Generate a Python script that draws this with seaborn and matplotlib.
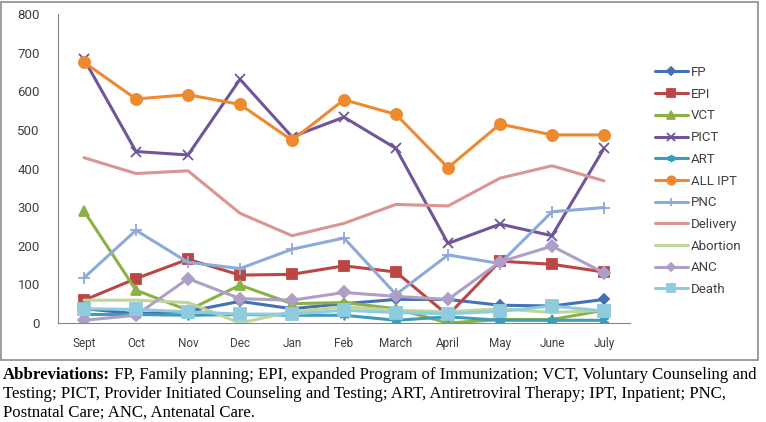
import matplotlib
matplotlib.use("Agg")
import matplotlib.pyplot as plt
import matplotlib.patches as mpatches
import seaborn as sns

# === Data
months = ["Sept", "Oct", "Nov", "Dec", "Jan", "Feb", "March", "April", "May", "June", "July"]

fp = [37, 24, 30, 56, 37, 50, 61, 61, 46, 44, 61]
epi = [59, 115, 165, 124, 126, 148, 132, 20, 160, 152, 132]
vct = [290, 85, 33, 98, 50, 53, 37, 0, 9, 9, 33]
pict = [683, 444, 435, 631, 482, 533, 452, 206, 256, 226, 452]
art = [22, 22, 20, 22, 20, 20, 7, 16, 7, 7, 7]
all_ipt = [675, 580, 591, 566, 473, 578, 540, 402, 515, 487, 487]
pnc = [117, 240, 157, 141, 191, 220, 74, 176, 154, 288, 299]
delivery = [428, 387, 394, 284, 226, 258, 307, 303, 375, 407, 368]
abortion = [59, 59, 53, 0, 29, 42, 33, 29, 37, 27, 33]
anc = [7, 20, 115, 63, 59, 79, 69, 61, 158, 199, 130]
death = [37, 35, 29, 23, 23, 33, 27, 24, 30, 44, 31]

series = [
    ("FP", fp, "#4471B4", "D", 5.5),
    ("EPI", epi, "#BB4644", "s", 7),
    ("VCT", vct, "#8AB046", "^", 7),
    ("PICT", pict, "#71559A", "x", 7),
    ("ART", art, "#3E9DB6", (6, 2, 0), 7),
    ("ALL IPT", all_ipt, "#EE8A2E", "o", 8),
    ("PNC", pnc, "#8EAADB", "+", 8),
    ("Delivery", delivery, "#DA9593", None, 0),
    ("Abortion", abortion, "#BFD69A", None, 0),
    ("ANC", anc, "#AE9FC8", "D", 6),
    ("Death", death, "#8ECBDE", "s", 8),
]

caption_bold = "Abbreviations:"
caption_lines = [
    " FP, Family planning; EPI, expanded Program of Immunization; VCT, Voluntary Counseling and",
    "Testing; PICT, Provider Initiated Counseling and Testing; ART, Antiretroviral Therapy; IPT, Inpatient; PNC,",
    "Postnatal Care; ANC, Antenatal Care.",
]

sns.set_theme(style="white")
plt.rcParams["font.family"] = ["Roboto", "DejaVu Sans"]

W, H = 766, 422
fig = plt.figure(figsize=(W / 100, H / 100), dpi=100)
ax = fig.add_axes([58 / W, 1 - 323 / H, (630 - 58) / W, (323 - 14) / H])

x = list(range(len(months)))
for name, vals, color, marker, ms in series:
    sns.lineplot(x=x, y=vals, ax=ax, color=color, linewidth=2.2,
                 marker=marker, markersize=ms, markeredgecolor=color,
                 markeredgewidth=1.3, label=name)

# === Axes styling (Excel look)
ax.set_xlim(-0.5, len(months) - 0.5)
ax.set_ylim(0, 800)
ax.set_yticks(range(0, 801, 100))
ax.set_xticks(x)
ax.set_xticklabels(months)
ax.set_xticks([i - 0.5 for i in range(len(months) + 1)], minor=True)
ax.tick_params(axis="x", which="major", length=0, pad=10, labelsize=8.5, colors="#404040")
ax.tick_params(axis="x", which="minor", length=4, width=0.8, color="#868686", direction="out")
ax.tick_params(axis="y", length=5, width=0.8, color="#868686", direction="out", pad=8,
               labelsize=9.5, labelcolor="#404040")
ax.spines["top"].set_visible(False)
ax.spines["right"].set_visible(False)
for s in ("left", "bottom"):
    ax.spines[s].set_color("#868686")
    ax.spines[s].set_linewidth(0.8)
ax.set_xlabel("")
ax.set_ylabel("")

leg = ax.legend(loc="upper left", bbox_to_anchor=(655 / W, 1 - 66 / H),
                bbox_transform=fig.transFigure, frameon=False, fontsize=9.5,
                handlelength=2.5, handletextpad=0.2, labelspacing=0.66,
                borderpad=0, borderaxespad=0, markerscale=0.75)
for t in leg.get_texts():
    t.set_color("#404040")

# === Outer frame of the chart
fig.patches.append(mpatches.Rectangle((1 / W, 1 - 360 / H), 757 / W, 358 / H,
                                      transform=fig.transFigure, fill=False,
                                      edgecolor="#8c8c8c", linewidth=1.2))

# === Caption with bold prefix
cap_font = ["Liberation Serif", "DejaVu Serif"]
cap_size = 12.1
fig.canvas.draw()
renderer = fig.canvas.get_renderer()
y0 = 1 - 375 / H
b = fig.text(3 / W, y0, caption_bold, family=cap_font, fontsize=cap_size, weight="bold",
             va="center", ha="left", color="black")
bb = b.get_window_extent(renderer)
fig.text(bb.x1 / W, y0, caption_lines[0], family=cap_font, fontsize=cap_size,
         va="center", ha="left", color="black")
fig.text(3 / W, 1 - 394.5 / H, caption_lines[1], family=cap_font, fontsize=cap_size,
         va="center", ha="left", color="black")
fig.text(3 / W, 1 - 413 / H, caption_lines[2], family=cap_font, fontsize=cap_size,
         va="center", ha="left", color="black")

fig.savefig("out.png", dpi=100)
